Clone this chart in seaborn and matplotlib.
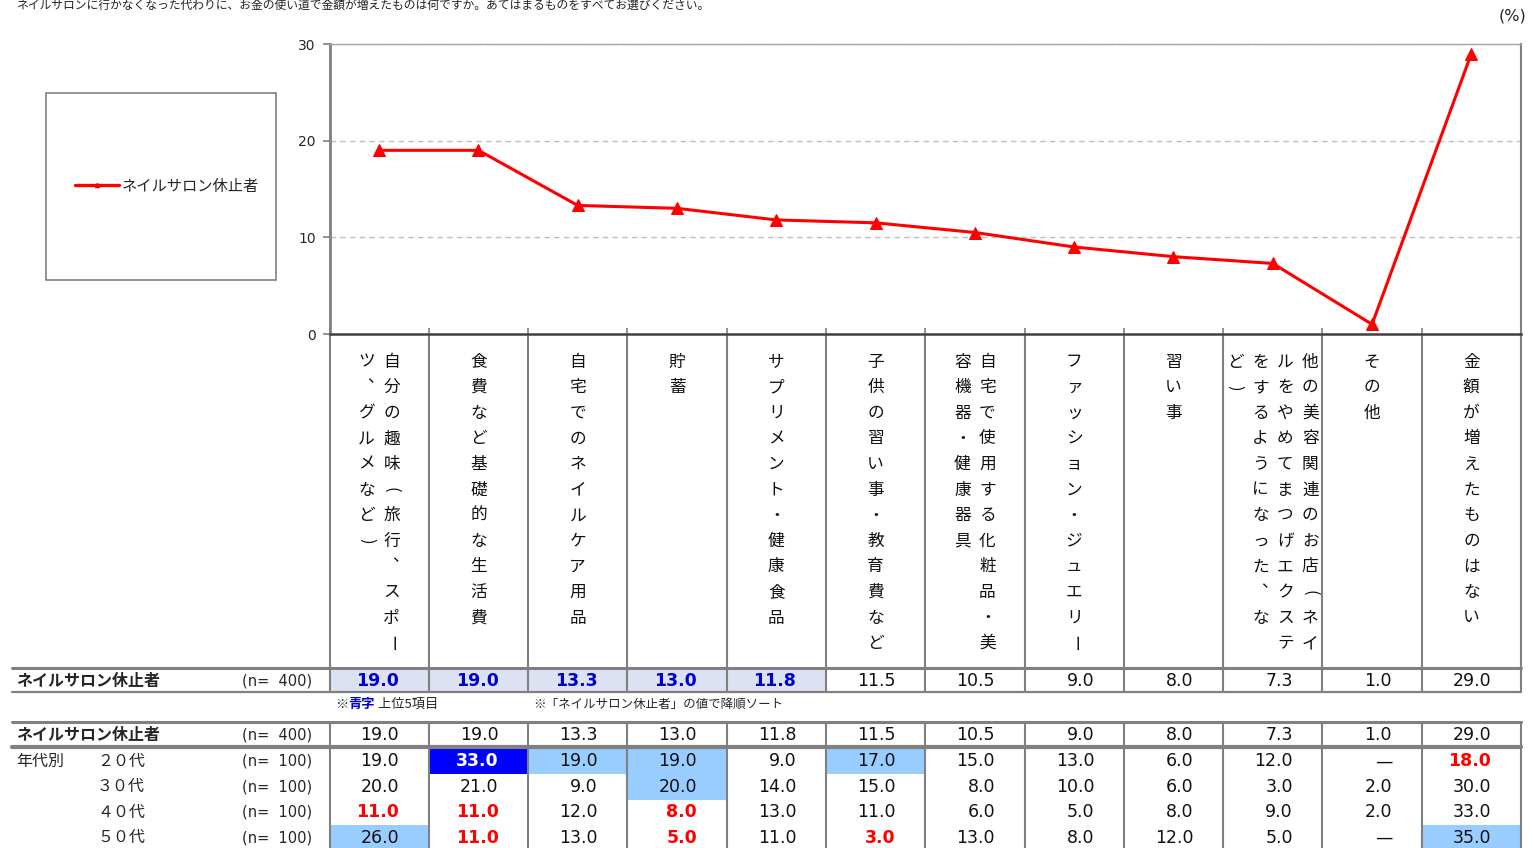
import numpy as np
import pandas as pd
import seaborn as sns
import matplotlib.pyplot as plt
from matplotlib.lines import Line2D
from matplotlib.patches import Rectangle

title = "ネイルサロンに行かなくなった代わりに、お金の使い道で金額が増えたものは何ですか。あてはまるものをすべてお選びください。"
series_name = "ネイルサロン休止者"

items = [
    "自分の趣味（旅行、スポーツ、グルメなど）",
    "食費など基礎的な生活費",
    "自宅でのネイルケア用品",
    "貯蓄",
    "サプリメント・健康食品",
    "子供の習い事・教育費など",
    "自宅で使用する化粧品・美容機器・健康器具",
    "ファッション・ジュエリー",
    "習い事",
    "他の美容関連のお店（ネイルをやめてまつげエクステをするようになった、など）",
    "その他",
    "金額が増えたものはない",
]
total = [19.0, 19.0, 13.3, 13.0, 11.8, 11.5, 10.5, 9.0, 8.0, 7.3, 1.0, 29.0]
total_n = 400

age_labels = ["２０代", "３０代", "４０代", "５０代"]
age_n = [100, 100, 100, 100]
age_20 = [19.0, 33.0, 19.0, 19.0, 9.0, 17.0, 15.0, 13.0, 6.0, 12.0, np.nan, 18.0]
age_30 = [20.0, 21.0, 9.0, 20.0, 14.0, 15.0, 8.0, 10.0, 6.0, 3.0, 2.0, 30.0]
age_40 = [11.0, 11.0, 12.0, 8.0, 13.0, 11.0, 6.0, 5.0, 8.0, 9.0, 2.0, 33.0]
age_50 = [26.0, 11.0, 13.0, 5.0, 11.0, 3.0, 13.0, 8.0, 12.0, 5.0, np.nan, 35.0]
age_rows = [age_20, age_30, age_40, age_50]

sns.set_style("white")
plt.rcParams["font.family"] = ["Noto Sans CJK JP", "DejaVu Sans"]

W, H = 1533, 848
fig = plt.figure(figsize=(W / 100, H / 100), dpi=100)
fig.patch.set_facecolor("white")

# pixel-coordinate layer for the table and texts
bg = fig.add_axes([0, 0, 1, 1], zorder=-1)
bg.set_xlim(0, W)
bg.set_ylim(H, 0)
bg.axis("off")

ax = fig.add_axes([329.5 / W, 1 - 334 / H, (1521 - 329.5) / W, (334 - 44) / H])
df = pd.DataFrame({"item": items, "value": total})
sns.lineplot(data=df, x="item", y="value", ax=ax, color="#ff0000", marker="^",
             markersize=9, markeredgecolor="#ff0000", linewidth=2.2, sort=False)
n = len(items)
ax.set_xlim(-0.5, n - 0.5)
ax.set_ylim(0, 30)
ax.set_yticks([0, 10, 20, 30])
ax.set_yticklabels(["0", "10", "20", "30"], family="DejaVu Sans", fontsize=10)
ax.set_xticks(np.arange(n + 1) - 0.5)
ax.set_xticklabels([])
ax.set_xlabel("")
ax.set_ylabel("")
ax.tick_params(axis="y", direction="out", length=5, width=1.2, color="#808080", pad=5, left=True)
ax.tick_params(axis="x", direction="in", length=4, width=1.2, color="#808080", bottom=True)
ax.yaxis.grid(True, linestyle=(0, (4, 3)), color="#bfbfbf", linewidth=1)
ax.spines["left"].set_color("#808080")
ax.spines["left"].set_linewidth(2)
ax.spines["bottom"].set_color("#404040")
ax.spines["bottom"].set_linewidth(1.8)
ax.spines["right"].set_color("#808080")
ax.spines["right"].set_linewidth(1.5)
ax.spines["top"].set_color("#a6a6a6")
ax.spines["top"].set_linewidth(1)
for s in ax.spines.values():
    s.set_visible(True)

# legend
h = Line2D([], [], color="#ff0000", lw=2.4, marker="^", markersize=3)
fig.legend(handles=[h], labels=[series_name], loc="center",
           bbox_to_anchor=(167 / W, 1 - 186 / H), frameon=False, fontsize=11,
           handlelength=2.9, handletextpad=0.15)
bg.add_patch(Rectangle((46, 93), 230, 187, fill=False, ec="#808080", lw=1.2))

# column geometry from the chart's x scale
xc = [ax.transData.transform((i, 0))[0] for i in range(n)]
xb = [ax.transData.transform((i - 0.5, 0))[0] for i in range(n + 1)]

# texts at top
bg.text(16, 5, title, fontsize=8.5, va="center", ha="left", color="#222222")
bg.text(1526, 16, "(%)", fontsize=11.5, family="DejaVu Sans", va="center", ha="right")


def wrap(s, size=12):
    cols = []
    while s:
        chunk, s = s[:size], s[size:]
        if s and s[0] in "）、。":
            s = chunk[-1] + s
            chunk = chunk[:-1]
        cols.append(chunk)
    return cols


# vertical category headers
for i, it in enumerate(items):
    cols = wrap(it)
    for j, col in enumerate(cols):
        x = xc[i] + ((len(cols) - 1) / 2 - j) * 25
        for k, ch in enumerate(col):
            y = 362 + k * 25.6
            rot, dx, dy = 0, 0, 0
            if ch in "（）":
                ch = {"（": "(", "）": ")"}[ch]
                rot = -90
            if ch == "ー":
                rot = -90
            if ch == "、":
                dx, dy = 9, -10
            bg.text(x + dx, y + dy, ch, fontsize=12, ha="center", va="center",
                    rotation=rot, color="#111111")

# grid lines of table
line_c = "#808080"
for b in xb:
    bg.plot([b, b], [334, 692], color=line_c, lw=1.5, zorder=3)
    bg.plot([b, b], [722, 852], color=line_c, lw=1.5, zorder=3)
bg.plot([12, xb[-1]], [668, 668], color=line_c, lw=2.2, zorder=3)
bg.plot([12, xb[-1]], [692, 692], color=line_c, lw=1.6, zorder=3)
bg.plot([12, xb[-1]], [722, 722], color=line_c, lw=2.2, zorder=3)
bg.plot([12, xb[-1]], [747, 747], color=line_c, lw=3, zorder=3)

num_kw = dict(family="DejaVu Sans", fontsize=12.5, va="center", ha="right")
top5 = set(np.argsort(-np.array(total[:-1]), kind="stable")[:5])

# row 1: totals with top-5 highlight
y1 = 681
bg.text(16, y1, series_name, fontsize=11.5, weight="bold", va="center")
bg.text(312, y1, f"(n=  {total_n})", family="DejaVu Sans", fontsize=10.5, va="center", ha="right")
for i, v in enumerate(total):
    if i in top5:
        bg.add_patch(Rectangle((xb[i], 668), xb[i + 1] - xb[i], 24, color="#dde2f3", lw=0, zorder=1))
        bg.text(xc[i] + 20, y1, f"{v:.1f}", color="#0000cc", weight="bold", **num_kw)
    else:
        bg.text(xc[i] + 20, y1, f"{v:.1f}", color="#111111", **num_kw)

# notes
r = fig.canvas.get_renderer()
x = 335
for s, kw in [("※", {}), ("青字", {"color": "#0000cc", "weight": "bold"}), (" 上位5項目", {})]:
    t = bg.text(x, 704, s, fontsize=9.5, va="center", ha="left", **kw)
    x += t.get_window_extent(renderer=r).width
bg.text(533, 704, "※「ネイルサロン休止者」の値で降順ソート", fontsize=9, va="center", ha="left")

# row 2: totals again
y2 = 735
bg.text(16, y2, series_name, fontsize=11.5, weight="bold", va="center")
bg.text(312, y2, f"(n=  {total_n})", family="DejaVu Sans", fontsize=10.5, va="center", ha="right")
for i, v in enumerate(total):
    bg.text(xc[i] + 20, y2, f"{v:.1f}", color="#111111", **num_kw)

# age rows
row_top = [748.5, 774, 799.5, 825]
bg.text(16, 761, "年代別", fontsize=11.5, va="center")
for r_i, (lab, nn, vals) in enumerate(zip(age_labels, age_n, age_rows)):
    top = row_top[r_i]
    yc = top + 12.8
    bg.text(97, yc, lab, fontsize=11.5, va="center")
    bg.text(312, yc, f"(n=  {nn})", family="DejaVu Sans", fontsize=10.5, va="center", ha="right")
    for i, v in enumerate(vals):
        if np.isnan(v):
            bg.text(xc[i] + 20, yc, "—", color="#111111", **num_kw)
            continue
        d = v - total[i]
        kw = {"color": "#111111"}
        if d >= 10:
            bg.add_patch(Rectangle((xb[i], top), xb[i + 1] - xb[i], 25.5, color="#0000ff", lw=0, zorder=1))
            kw = {"color": "white", "weight": "bold"}
        elif d >= 5:
            bg.add_patch(Rectangle((xb[i], top), xb[i + 1] - xb[i], 25.5, color="#99ccff", lw=0, zorder=1))
        elif d <= -5:
            kw = {"color": "#ff0000", "weight": "bold"}
        bg.text(xc[i] + 20, yc, f"{v:.1f}", **num_kw, **kw)

fig.savefig("out.png", dpi=100, facecolor="white")
